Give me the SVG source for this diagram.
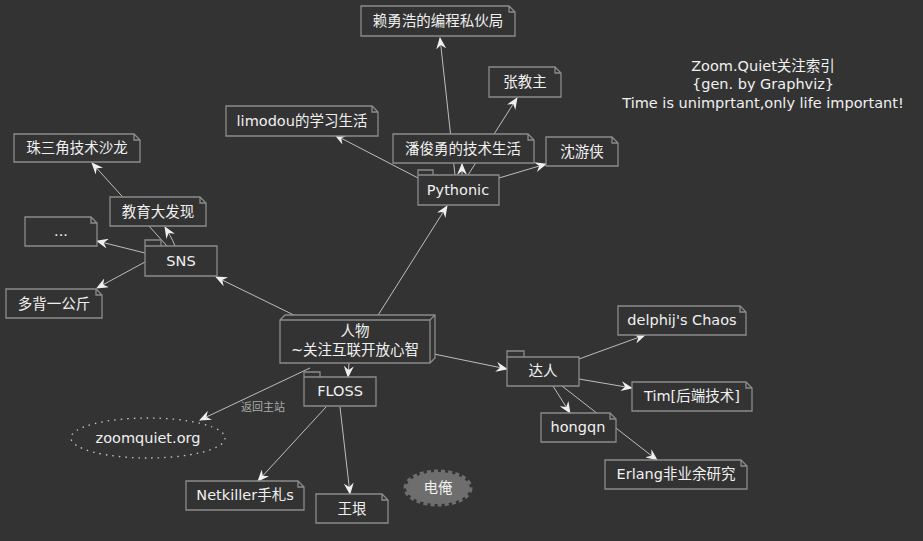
<svg xmlns="http://www.w3.org/2000/svg" width="923" height="541" viewBox="0 0 923 541">
<defs>
<marker id="ah" markerWidth="12" markerHeight="10" refX="11" refY="5" orient="auto" markerUnits="userSpaceOnUse">
<path d="M0,0 L12,5 L0,10 L4,5 z" fill="#f0f0f0"/>
</marker>
<style>
.bg{fill:#333333}
.e{fill:none;stroke:#bdbdbd;stroke-width:1;marker-end:url(#ah)}
.n{fill:#333333;stroke:#8c8c8c;stroke-width:1.3}
.t{font-family:"DejaVu Sans","Noto Sans CJK SC",sans-serif;font-size:14.5px;fill:#f0f0f0;text-anchor:middle}
.s{font-family:"DejaVu Sans","Noto Sans CJK SC",sans-serif;font-size:11px;fill:#aaaaaa}
</style>
</defs>
<rect class="bg" x="0" y="0" width="923" height="541"/>
<g id="edges">
<line class="e" x1="304" y1="320" x2="216" y2="277"/>
<line class="e" x1="375" y1="320" x2="447" y2="206"/>
<line class="e" x1="434" y1="354" x2="507" y2="369"/>
<line class="e" x1="349" y1="363" x2="348" y2="377"/>
<line class="e" x1="310" y1="368" x2="200" y2="420"/>
<line class="e" x1="167" y1="246" x2="92" y2="163"/>
<path class="e" d="M175,246 C172,238 168,232 165,227"/>
<line class="e" x1="145" y1="253" x2="97" y2="241"/>
<line class="e" x1="145" y1="262" x2="97" y2="288"/>
<line class="e" x1="418" y1="178" x2="335" y2="135"/>
<line class="e" x1="455" y1="175" x2="440" y2="38"/>
<line class="e" x1="462" y1="175" x2="462" y2="164"/>
<line class="e" x1="468" y1="175" x2="517" y2="98"/>
<line class="e" x1="499" y1="178" x2="546" y2="164"/>
<line class="e" x1="579" y1="359" x2="645" y2="335"/>
<line class="e" x1="579" y1="379" x2="632" y2="388"/>
<line class="e" x1="553" y1="386" x2="570" y2="413"/>
<line class="e" x1="562" y1="386" x2="657" y2="460"/>
<line class="e" x1="326" y1="407" x2="258" y2="481"/>
<line class="e" x1="340" y1="407" x2="350" y2="494"/>
<text class="s" x="241" y="411">返回主站</text>
</g>
<g id="title">
<text class="t" x="763" y="71">Zoom.Quiet关注索引</text>
<text class="t" x="763" y="89">{gen. by Graphviz}</text>
<text class="t" x="763" y="108">Time is unimprtant,only life important!</text>
</g>
<g id="n_lai"><path class="n" d="M361,6 H509 L515,12 V36 H361 Z M509,6 V12 H515"/><text class="t" x="438" y="26">赖勇浩的编程私伙局</text></g>
<g id="n_zhang"><path class="n" d="M489,67 H555 L561,73 V97 H489 Z M555,67 V73 H561"/><text class="t" x="525" y="87">张教主</text></g>
<g id="n_limodou"><path class="n" d="M226,106 H372 L378,112 V136 H226 Z M372,106 V112 H378"/><text class="t" x="302" y="126">limodou的学习生活</text></g>
<g id="n_pan"><path class="n" d="M393,134 H528 L534,140 V163 H393 Z M528,134 V140 H534"/><text class="t" x="463" y="154">潘俊勇的技术生活</text></g>
<g id="n_shen"><path class="n" d="M546,137 H612 L618,143 V166 H546 Z M612,137 V143 H618"/><text class="t" x="582" y="157">沈游侠</text></g>
<g id="n_pythonic"><path class="n" d="M418,175 V170 H433 V175 M418,175 H499 V205 H418 Z"/><text class="t" x="458" y="195">Pythonic</text></g>
<g id="n_zsj"><path class="n" d="M14,134 H134 L140,140 V162 H14 Z M134,134 V140 H140"/><text class="t" x="77" y="153">珠三角技术沙龙</text></g>
<g id="n_jiaoyu"><path class="n" d="M110,197 H200 L206,203 V226 H110 Z M200,197 V203 H206"/><text class="t" x="158" y="217">教育大发现</text></g>
<g id="n_dots"><path class="n" d="M25,217 H91 L97,223 V246 H25 Z M91,217 V223 H97"/><text class="t" x="61" y="236">...</text></g>
<g id="n_sns"><path class="n" d="M145,246 V240 H161 V246 M145,246 H217 V276 H145 Z"/><text class="t" x="181" y="266">SNS</text></g>
<g id="n_duobei"><path class="n" d="M6,289 H96 L102,295 V318 H6 Z M96,289 V295 H102"/><text class="t" x="54" y="309">多背一公斤</text></g>
<g id="n_renwu"><path class="n" d="M280,320 L285,315 H435 V358 L430,363 H280 Z M280,320 H430 V363 M430,320 L435,315"/><text class="t" x="355" y="336">人物</text><text class="t" x="355" y="355">~关注互联开放心智</text></g>
<g id="n_floss"><path class="n" d="M304,377 V372 H320 V377 M304,377 H376 V406 H304 Z"/><text class="t" x="340" y="396">FLOSS</text></g>
<g id="n_zoomquiet"><ellipse cx="148" cy="438" rx="77" ry="20" fill="#333333" stroke="#c8c8c8" stroke-width="1.3" stroke-dasharray="1.5,5"/><text class="t" x="148" y="443">zoomquiet.org</text></g>
<g id="n_netkiller"><path class="n" d="M186,481 H298 L304,487 V510 H186 Z M298,481 V487 H304"/><text class="t" x="245" y="500">Netkiller手札s</text></g>
<g id="n_wangyin"><path class="n" d="M316,494 H382 L388,500 V523 H316 Z M382,494 V500 H388"/><text class="t" x="352" y="514">王垠</text></g>
<g id="n_dianan"><ellipse cx="438" cy="488" rx="32" ry="16" fill="#6e6e6e" stroke="#6e6e6e" stroke-width="5" stroke-dasharray="4,3"/><text class="t" x="438" y="493">电俺</text></g>
<g id="n_daren"><path class="n" d="M507,357 V351 H524 V357 M507,357 H579 V386 H507 Z"/><text class="t" x="543" y="376">达人</text></g>
<g id="n_delphij"><path class="n" d="M618,306 H740 L746,312 V335 H618 Z M740,306 V312 H746"/><text class="t" x="682" y="325">delphij's Chaos</text></g>
<g id="n_tim"><path class="n" d="M632,382 H746 L752,388 V411 H632 Z M746,382 V388 H752"/><text class="t" x="692" y="401">Tim[后端技术]</text></g>
<g id="n_hongqn"><path class="n" d="M541,413 H610 L616,419 V442 H541 Z M610,413 V419 H616"/><text class="t" x="578" y="432">hongqn</text></g>
<g id="n_erlang"><path class="n" d="M605,460 H741 L747,466 V489 H605 Z M741,460 V466 H747"/><text class="t" x="676" y="479">Erlang非业余研究</text></g>
</svg>
